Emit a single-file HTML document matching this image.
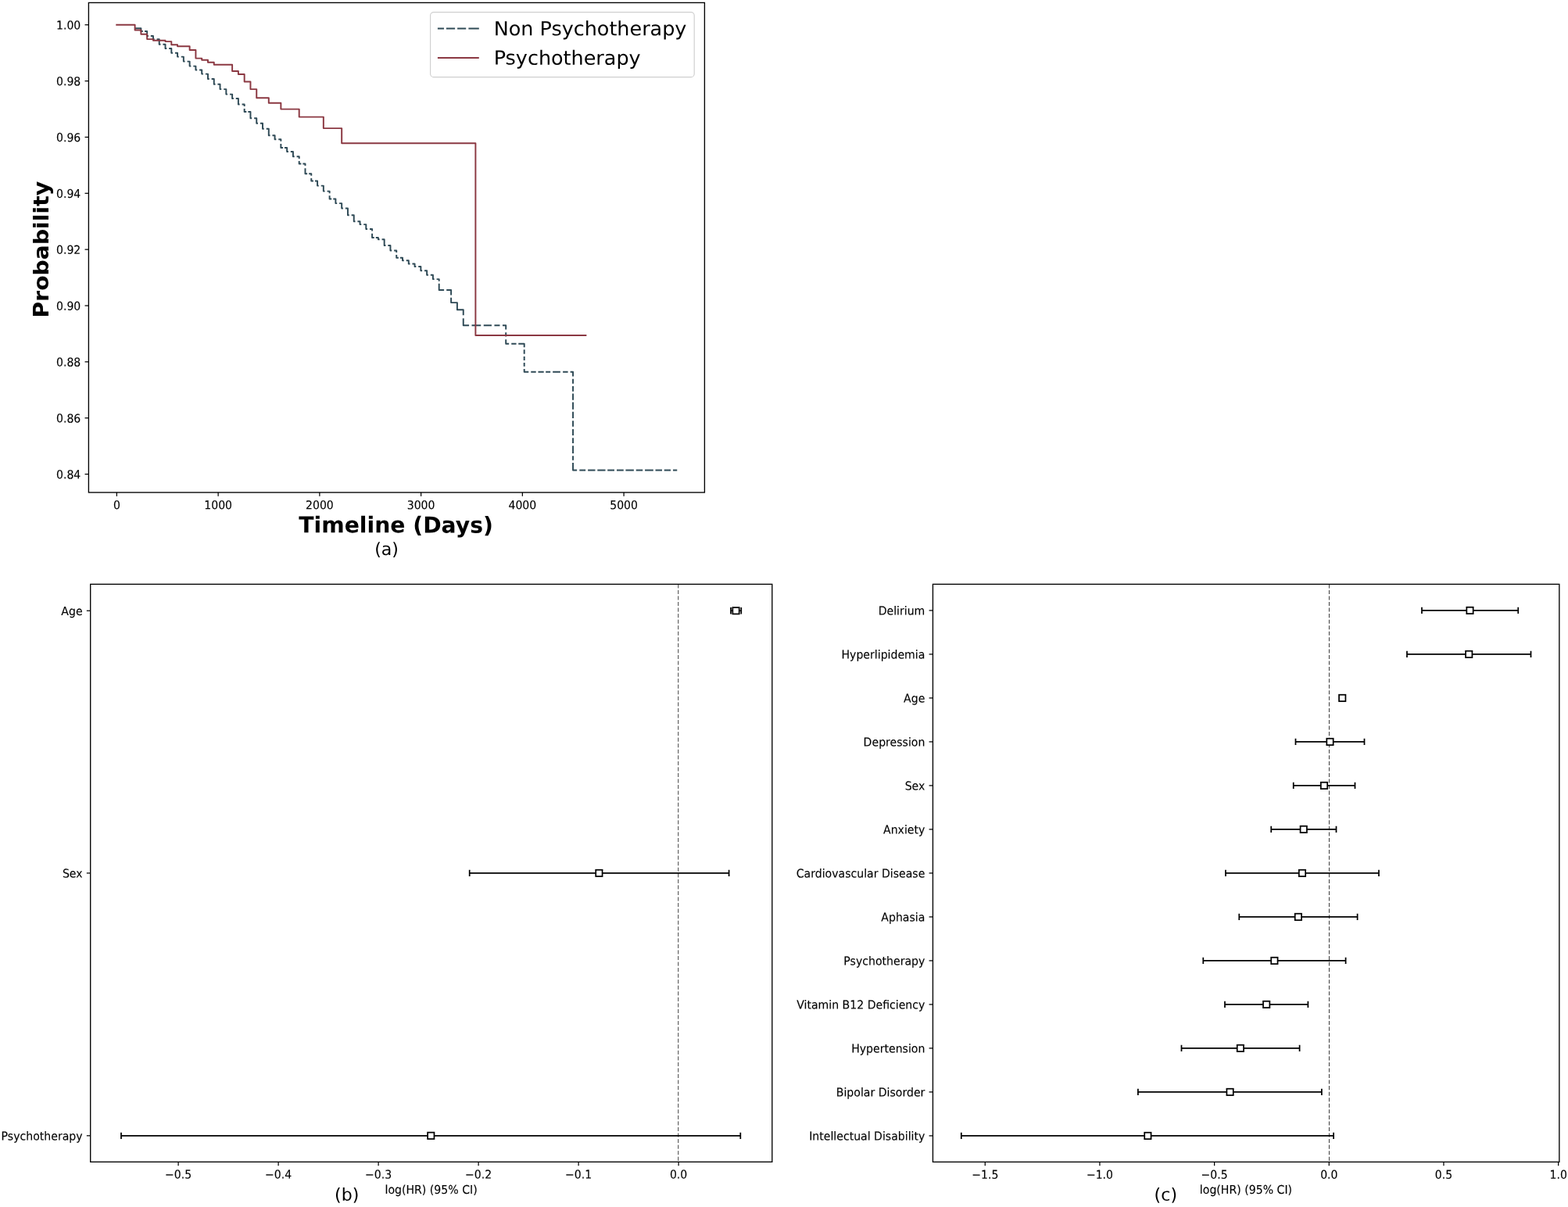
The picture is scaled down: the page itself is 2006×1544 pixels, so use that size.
<!DOCTYPE html>
<html lang="en">
<head>
<meta charset="utf-8">
<title>Kaplan-Meier and Cox hazard ratio plots</title>
<style>
html,body{margin:0;padding:0;background:#fff;}
body{width:2006px;height:1544px;overflow:hidden;}
svg{display:block;font-family:'DejaVu Sans','Liberation Sans',sans-serif;}
</style>
</head>
<body>
<svg width="2006" height="1544" viewBox="0 0 2006 1544">
<rect x="0" y="0" width="2006" height="1544" fill="#fff"/>
<rect x="113.40" y="3.45" width="788.00" height="626.50" fill="#fff" stroke="#000" stroke-width="1.35"/>
<line x1="149.40" y1="629.95" x2="149.40" y2="634.81" stroke="#000" stroke-width="1.25"/>
<text transform="translate(149.40 651.20) rotate(0.05) scale(1.012 1.08)" font-size="13.89" text-anchor="middle" fill="#000" stroke="#000" stroke-width="0.12" stroke-linejoin="round">0</text>
<line x1="279.14" y1="629.95" x2="279.14" y2="634.81" stroke="#000" stroke-width="1.25"/>
<text transform="translate(279.14 651.20) rotate(0.05) scale(1.012 1.08)" font-size="13.89" text-anchor="middle" fill="#000" stroke="#000" stroke-width="0.12" stroke-linejoin="round">1000</text>
<line x1="408.88" y1="629.95" x2="408.88" y2="634.81" stroke="#000" stroke-width="1.25"/>
<text transform="translate(408.88 651.20) rotate(0.05) scale(1.012 1.08)" font-size="13.89" text-anchor="middle" fill="#000" stroke="#000" stroke-width="0.12" stroke-linejoin="round">2000</text>
<line x1="538.62" y1="629.95" x2="538.62" y2="634.81" stroke="#000" stroke-width="1.25"/>
<text transform="translate(538.62 651.20) rotate(0.05) scale(1.012 1.08)" font-size="13.89" text-anchor="middle" fill="#000" stroke="#000" stroke-width="0.12" stroke-linejoin="round">3000</text>
<line x1="668.36" y1="629.95" x2="668.36" y2="634.81" stroke="#000" stroke-width="1.25"/>
<text transform="translate(668.36 651.20) rotate(0.05) scale(1.012 1.08)" font-size="13.89" text-anchor="middle" fill="#000" stroke="#000" stroke-width="0.12" stroke-linejoin="round">4000</text>
<line x1="798.10" y1="629.95" x2="798.10" y2="634.81" stroke="#000" stroke-width="1.25"/>
<text transform="translate(798.10 651.20) rotate(0.05) scale(1.012 1.08)" font-size="13.89" text-anchor="middle" fill="#000" stroke="#000" stroke-width="0.12" stroke-linejoin="round">5000</text>
<line x1="108.54" y1="31.75" x2="113.40" y2="31.75" stroke="#000" stroke-width="1.25"/>
<text transform="translate(103.30 37.45) rotate(0.05) scale(1.012 1.08)" font-size="13.89" text-anchor="end" fill="#000" stroke="#000" stroke-width="0.12" stroke-linejoin="round">1.00</text>
<line x1="108.54" y1="103.60" x2="113.40" y2="103.60" stroke="#000" stroke-width="1.25"/>
<text transform="translate(103.30 109.30) rotate(0.05) scale(1.012 1.08)" font-size="13.89" text-anchor="end" fill="#000" stroke="#000" stroke-width="0.12" stroke-linejoin="round">0.98</text>
<line x1="108.54" y1="175.45" x2="113.40" y2="175.45" stroke="#000" stroke-width="1.25"/>
<text transform="translate(103.30 181.15) rotate(0.05) scale(1.012 1.08)" font-size="13.89" text-anchor="end" fill="#000" stroke="#000" stroke-width="0.12" stroke-linejoin="round">0.96</text>
<line x1="108.54" y1="247.30" x2="113.40" y2="247.30" stroke="#000" stroke-width="1.25"/>
<text transform="translate(103.30 253.00) rotate(0.05) scale(1.012 1.08)" font-size="13.89" text-anchor="end" fill="#000" stroke="#000" stroke-width="0.12" stroke-linejoin="round">0.94</text>
<line x1="108.54" y1="319.15" x2="113.40" y2="319.15" stroke="#000" stroke-width="1.25"/>
<text transform="translate(103.30 324.85) rotate(0.05) scale(1.012 1.08)" font-size="13.89" text-anchor="end" fill="#000" stroke="#000" stroke-width="0.12" stroke-linejoin="round">0.92</text>
<line x1="108.54" y1="391.00" x2="113.40" y2="391.00" stroke="#000" stroke-width="1.25"/>
<text transform="translate(103.30 396.70) rotate(0.05) scale(1.012 1.08)" font-size="13.89" text-anchor="end" fill="#000" stroke="#000" stroke-width="0.12" stroke-linejoin="round">0.90</text>
<line x1="108.54" y1="462.85" x2="113.40" y2="462.85" stroke="#000" stroke-width="1.25"/>
<text transform="translate(103.30 468.55) rotate(0.05) scale(1.012 1.08)" font-size="13.89" text-anchor="end" fill="#000" stroke="#000" stroke-width="0.12" stroke-linejoin="round">0.88</text>
<line x1="108.54" y1="534.70" x2="113.40" y2="534.70" stroke="#000" stroke-width="1.25"/>
<text transform="translate(103.30 540.40) rotate(0.05) scale(1.012 1.08)" font-size="13.89" text-anchor="end" fill="#000" stroke="#000" stroke-width="0.12" stroke-linejoin="round">0.86</text>
<line x1="108.54" y1="606.55" x2="113.40" y2="606.55" stroke="#000" stroke-width="1.25"/>
<text transform="translate(103.30 612.25) rotate(0.05) scale(1.012 1.08)" font-size="13.89" text-anchor="end" fill="#000" stroke="#000" stroke-width="0.12" stroke-linejoin="round">0.84</text>
<path d="M172.60 36.20H180.38V39.90H182.78" fill="none" stroke="#2f4a56" stroke-width="1.95" stroke-linejoin="round"/>
<path d="M185.06 39.90H188.16V45.90H189.91M192.84 45.90H195.94V50.10H197.69M200.62 50.10H203.72V56.70H205.47M208.41 56.70H211.51V61.90H213.26M216.19 61.90H219.29V67.80H221.04M223.97 67.80H227.07V72.60H228.82M231.75 72.60H234.85V78.60H236.60M239.53 78.60H242.63V84.60H244.38M247.32 84.60H250.42V89.50H252.17M255.10 89.50H258.20V94.60H259.95M262.88 94.60H265.98V100.90H267.73M270.66 100.90H273.76V107.70H275.51M278.44 107.70H281.54V114.10H283.29M286.23 114.10H289.33V120.60H291.08M294.01 120.60H297.11V125.90H298.86M301.79 125.90H304.89V133.40H306.64M309.57 133.40H312.67V136.00M312.67 139.10V143.00H315.32M317.35 143.00H320.45V151.20H322.20M325.14 151.20H328.24V157.70H329.99M332.92 157.70H336.02V164.80H337.77M340.70 164.80H343.80V173.30H345.55M348.48 173.30H351.58V178.20H353.33M356.26 178.20H359.36V180.80M359.36 183.90V188.90H362.01M364.05 188.90H367.15V193.90H368.90M371.83 193.90H374.93V200.30H376.68M379.61 200.30H382.71V202.90M382.71 206.00V209.50H385.36M387.39 209.50H390.49V212.10M390.49 215.20V222.20H393.14M395.17 222.20H398.27V224.80M398.27 227.90V231.40H400.92M402.96 231.40H406.06V237.60H407.81M410.74 237.60H413.84V244.60H415.59M418.52 244.60H421.62V247.20M421.62 250.30V254.50H424.27M426.30 254.50H429.40V260.10H431.15M434.08 260.10H437.18V266.50H438.93M441.87 266.50H444.97V275.30H446.72M449.65 275.30H452.75V283.20H454.50M457.43 283.20H460.53V287.10H462.28M465.21 287.10H468.31V293.00H470.06M472.99 293.00H476.09V295.60M476.09 298.70V303.90H478.74M480.78 303.90H483.88V306.30H485.63M488.56 306.30H491.66V313.90H493.41M496.34 313.90H499.44V320.40H501.19M504.12 320.40H507.22V323.00M507.22 326.10V329.70H509.87M511.90 329.70H515.00V333.20H516.75M519.69 333.20H522.79V337.40H524.54M527.47 337.40H530.57V341.00H532.32M535.25 341.00H538.35V346.30H540.10M543.03 346.30H546.13V351.80H547.88M550.81 351.80H553.91V357.10H555.66M558.60 357.10H561.70V359.70M561.70 362.80V371.00H568.10" fill="none" stroke="#2f4a56" stroke-width="1.95" stroke-linejoin="round"/>
<path d="M571.2 371.0H577.1V387.1H584.9V396.3H592.75V416.3H647.2V439.8H670.7V475.65H733.05V601.4H866.3" fill="none" stroke="#2f4a56" stroke-width="1.95" stroke-dasharray="12.40 3.30 38.05 4.00 16.40 3.45 11.75 3.50 10.20 3.50 7.00 3.50 9.40 3.70 5.30 3.70 9.60 3.10 6.30 2.70 11.90 3.00 5.50 3.20 5.00 3.00 4.75 3.25 9.25 3.00 6.45 2.75 7.25 2.45 6.00 3.00 9.70 3.25 6.50 3.00 9.25 3.20 6.00 3.25 6.75 2.90 8.25 2.75 9.20 3.00 8.20 3.30 7.45 3.25 8.05 3.35 6.75 3.20 9.75 3.20 5.45 3.25 14.52 3.20 7.80 3.00 9.40 2.80 10.20 2.70 8.75 3.00 8.80 2.65 10.45 2.85 8.50 2.85 10.75 2.70 8.50 2.70 8.30 3.00 5.23 50.00" stroke-linejoin="round"/>
<path d="M149.25 31.75H172.60V38.50H180.38V43.80H188.16V50.10H195.94V51.70H211.51V53.10H219.29V57.30H227.07V59.20H242.63V63.90H250.42V74.60H258.20V76.80H265.98V79.70H273.76V82.80H297.11V90.90H304.89V95.00H312.67V104.50H320.45V114.10H328.24V125.30H343.80V131.80H359.36V139.60H382.71V149.60H413.84V164.10H437.18V183.20H608.39V428.90H749.40" fill="none" stroke="#8b3842" stroke-width="1.95" stroke-linejoin="round" stroke-linecap="square"/>
<rect x="550.6" y="15.6" width="337.6" height="83.0" rx="4.2" ry="4.2" fill="#fff" fill-opacity="0.8" stroke="#cccccc" stroke-opacity="0.95" stroke-width="1.15"/>
<path d="M559.9 36.5H612.8" fill="none" stroke="#2f4a56" stroke-width="1.95" stroke-dasharray="8.1 2.9 11.2 3.0 11.1 3.2 13.4"/>
<path d="M559.9 74.05H612.8" fill="none" stroke="#8b3842" stroke-width="1.95"/>
<text transform="translate(631.70 45.15) rotate(0.05) scale(1.018 0.995)" font-size="25" text-anchor="start" fill="#000">Non Psychotherapy</text>
<text transform="translate(631.70 82.60) rotate(0.05) scale(1.018 0.995)" font-size="25" text-anchor="start" fill="#000">Psychotherapy</text>
<text transform="translate(62.20 319.20) rotate(-90) scale(1.018 0.985)" font-size="27.78" text-anchor="middle" font-weight="bold" fill="#000">Probability</text>
<text transform="translate(506.60 681.35) rotate(0.05) scale(1.017 1.02)" font-size="27.78" text-anchor="middle" font-weight="bold" fill="#000">Timeline (Days)</text>
<text transform="translate(494.60 710.00) rotate(0.05)" font-size="22.1" text-anchor="middle" fill="#000">(a)</text>
<rect x="115.70" y="747.35" width="872.10" height="739.00" fill="#fff" stroke="#000" stroke-width="1.35"/>
<line x1="867.78" y1="747.35" x2="867.78" y2="1486.35" stroke="#000" stroke-opacity="0.76" stroke-width="1.0" stroke-dasharray="5.05 2.5"/>
<line x1="228.10" y1="1486.35" x2="228.10" y2="1491.21" stroke="#000" stroke-width="1.25"/>
<text transform="translate(228.10 1507.60) rotate(0.05) scale(1.012 1.08)" font-size="13.89" text-anchor="middle" fill="#000" stroke="#000" stroke-width="0.12" stroke-linejoin="round">−0.5</text>
<line x1="356.10" y1="1486.35" x2="356.10" y2="1491.21" stroke="#000" stroke-width="1.25"/>
<text transform="translate(356.10 1507.60) rotate(0.05) scale(1.012 1.08)" font-size="13.89" text-anchor="middle" fill="#000" stroke="#000" stroke-width="0.12" stroke-linejoin="round">−0.4</text>
<line x1="484.10" y1="1486.35" x2="484.10" y2="1491.21" stroke="#000" stroke-width="1.25"/>
<text transform="translate(484.10 1507.60) rotate(0.05) scale(1.012 1.08)" font-size="13.89" text-anchor="middle" fill="#000" stroke="#000" stroke-width="0.12" stroke-linejoin="round">−0.3</text>
<line x1="612.10" y1="1486.35" x2="612.10" y2="1491.21" stroke="#000" stroke-width="1.25"/>
<text transform="translate(612.10 1507.60) rotate(0.05) scale(1.012 1.08)" font-size="13.89" text-anchor="middle" fill="#000" stroke="#000" stroke-width="0.12" stroke-linejoin="round">−0.2</text>
<line x1="740.10" y1="1486.35" x2="740.10" y2="1491.21" stroke="#000" stroke-width="1.25"/>
<text transform="translate(740.10 1507.60) rotate(0.05) scale(1.012 1.08)" font-size="13.89" text-anchor="middle" fill="#000" stroke="#000" stroke-width="0.12" stroke-linejoin="round">−0.1</text>
<line x1="868.10" y1="1486.35" x2="868.10" y2="1491.21" stroke="#000" stroke-width="1.25"/>
<text transform="translate(868.10 1507.60) rotate(0.05) scale(1.012 1.08)" font-size="13.89" text-anchor="middle" fill="#000" stroke="#000" stroke-width="0.12" stroke-linejoin="round">0.0</text>
<line x1="110.84" y1="781.25" x2="115.70" y2="781.25" stroke="#000" stroke-width="1.25"/>
<text transform="translate(105.60 786.95) rotate(0.05) scale(1.014 1.08)" font-size="13.89" text-anchor="end" fill="#000" stroke="#000" stroke-width="0.12" stroke-linejoin="round">Age</text>
<path d="M935.00 781.25H948.25M935.00 777.08V785.42M948.25 777.08V785.42" fill="none" stroke="#000" stroke-width="1.74"/>
<rect x="937.34" y="777.09" width="8.33" height="8.33" fill="#fff" stroke="#000" stroke-width="1.74"/>
<line x1="110.84" y1="1116.90" x2="115.70" y2="1116.90" stroke="#000" stroke-width="1.25"/>
<text transform="translate(105.60 1122.60) rotate(0.05) scale(1.014 1.08)" font-size="13.89" text-anchor="end" fill="#000" stroke="#000" stroke-width="0.12" stroke-linejoin="round">Sex</text>
<path d="M600.70 1116.90H932.60M600.70 1112.73V1121.07M932.60 1112.73V1121.07" fill="none" stroke="#000" stroke-width="1.74"/>
<rect x="762.24" y="1112.74" width="8.33" height="8.33" fill="#fff" stroke="#000" stroke-width="1.74"/>
<line x1="110.84" y1="1452.80" x2="115.70" y2="1452.80" stroke="#000" stroke-width="1.25"/>
<text transform="translate(105.60 1458.50) rotate(0.05) scale(1.014 1.08)" font-size="13.89" text-anchor="end" fill="#000" stroke="#000" stroke-width="0.12" stroke-linejoin="round">Psychotherapy</text>
<path d="M155.00 1452.80H947.30M155.00 1448.63V1456.97M947.30 1448.63V1456.97" fill="none" stroke="#000" stroke-width="1.74"/>
<rect x="547.13" y="1448.63" width="8.33" height="8.33" fill="#fff" stroke="#000" stroke-width="1.74"/>
<text transform="translate(551.55 1527.05) rotate(0.05) scale(1.016 1.08)" font-size="13.89" text-anchor="middle" fill="#000" stroke="#000" stroke-width="0.12" stroke-linejoin="round">log(HR) (95% CI)</text>
<text transform="translate(443.70 1535.70) rotate(0.05)" font-size="22.1" text-anchor="middle" fill="#000">(b)</text>
<rect x="1193.45" y="747.35" width="801.40" height="739.05" fill="#fff" stroke="#000" stroke-width="1.35"/>
<line x1="1700.50" y1="747.35" x2="1700.50" y2="1486.40" stroke="#000" stroke-opacity="0.74" stroke-width="1.05" stroke-dasharray="5.05 2.5"/>
<line x1="1260.27" y1="1486.40" x2="1260.27" y2="1491.26" stroke="#000" stroke-width="1.25"/>
<text transform="translate(1260.27 1507.65) rotate(0.05) scale(1.012 1.08)" font-size="13.89" text-anchor="middle" fill="#000" stroke="#000" stroke-width="0.12" stroke-linejoin="round">−1.5</text>
<line x1="1406.95" y1="1486.40" x2="1406.95" y2="1491.26" stroke="#000" stroke-width="1.25"/>
<text transform="translate(1406.95 1507.65) rotate(0.05) scale(1.012 1.08)" font-size="13.89" text-anchor="middle" fill="#000" stroke="#000" stroke-width="0.12" stroke-linejoin="round">−1.0</text>
<line x1="1553.62" y1="1486.40" x2="1553.62" y2="1491.26" stroke="#000" stroke-width="1.25"/>
<text transform="translate(1553.62 1507.65) rotate(0.05) scale(1.012 1.08)" font-size="13.89" text-anchor="middle" fill="#000" stroke="#000" stroke-width="0.12" stroke-linejoin="round">−0.5</text>
<line x1="1700.30" y1="1486.40" x2="1700.30" y2="1491.26" stroke="#000" stroke-width="1.25"/>
<text transform="translate(1700.30 1507.65) rotate(0.05) scale(1.012 1.08)" font-size="13.89" text-anchor="middle" fill="#000" stroke="#000" stroke-width="0.12" stroke-linejoin="round">0.0</text>
<line x1="1846.97" y1="1486.40" x2="1846.97" y2="1491.26" stroke="#000" stroke-width="1.25"/>
<text transform="translate(1846.97 1507.65) rotate(0.05) scale(1.012 1.08)" font-size="13.89" text-anchor="middle" fill="#000" stroke="#000" stroke-width="0.12" stroke-linejoin="round">0.5</text>
<line x1="1993.65" y1="1486.40" x2="1993.65" y2="1491.26" stroke="#000" stroke-width="1.25"/>
<text transform="translate(1993.65 1507.65) rotate(0.05) scale(1.012 1.08)" font-size="13.89" text-anchor="middle" fill="#000" stroke="#000" stroke-width="0.12" stroke-linejoin="round">1.0</text>
<line x1="1188.59" y1="780.90" x2="1193.45" y2="780.90" stroke="#000" stroke-width="1.25"/>
<text transform="translate(1183.35 786.60) rotate(0.05) scale(1.014 1.08)" font-size="13.89" text-anchor="end" fill="#000" stroke="#000" stroke-width="0.12" stroke-linejoin="round">Delirium</text>
<path d="M1819.00 780.90H1942.25M1819.00 776.73V785.07M1942.25 776.73V785.07" fill="none" stroke="#000" stroke-width="1.74"/>
<rect x="1876.34" y="776.74" width="8.33" height="8.33" fill="#fff" stroke="#000" stroke-width="1.74"/>
<line x1="1188.59" y1="836.90" x2="1193.45" y2="836.90" stroke="#000" stroke-width="1.25"/>
<text transform="translate(1183.35 842.60) rotate(0.05) scale(1.014 1.08)" font-size="13.89" text-anchor="end" fill="#000" stroke="#000" stroke-width="0.12" stroke-linejoin="round">Hyperlipidemia</text>
<path d="M1800.00 836.90H1958.50M1800.00 832.73V841.07M1958.50 832.73V841.07" fill="none" stroke="#000" stroke-width="1.74"/>
<rect x="1875.09" y="832.74" width="8.33" height="8.33" fill="#fff" stroke="#000" stroke-width="1.74"/>
<line x1="1188.59" y1="892.90" x2="1193.45" y2="892.90" stroke="#000" stroke-width="1.25"/>
<text transform="translate(1183.35 898.60) rotate(0.05) scale(1.014 1.08)" font-size="13.89" text-anchor="end" fill="#000" stroke="#000" stroke-width="0.12" stroke-linejoin="round">Age</text>
<path d="M1716.20 892.90H1718.30M1716.20 888.73V897.07M1718.30 888.73V897.07" fill="none" stroke="#000" stroke-width="1.74"/>
<rect x="1713.09" y="888.74" width="8.33" height="8.33" fill="#fff" stroke="#000" stroke-width="1.74"/>
<line x1="1188.59" y1="948.90" x2="1193.45" y2="948.90" stroke="#000" stroke-width="1.25"/>
<text transform="translate(1183.35 954.60) rotate(0.05) scale(1.014 1.08)" font-size="13.89" text-anchor="end" fill="#000" stroke="#000" stroke-width="0.12" stroke-linejoin="round">Depression</text>
<path d="M1657.50 948.90H1745.50M1657.50 944.73V953.07M1745.50 944.73V953.07" fill="none" stroke="#000" stroke-width="1.74"/>
<rect x="1697.34" y="944.74" width="8.33" height="8.33" fill="#fff" stroke="#000" stroke-width="1.74"/>
<line x1="1188.59" y1="1004.90" x2="1193.45" y2="1004.90" stroke="#000" stroke-width="1.25"/>
<text transform="translate(1183.35 1010.60) rotate(0.05) scale(1.014 1.08)" font-size="13.89" text-anchor="end" fill="#000" stroke="#000" stroke-width="0.12" stroke-linejoin="round">Sex</text>
<path d="M1654.75 1004.90H1733.50M1654.75 1000.73V1009.07M1733.50 1000.73V1009.07" fill="none" stroke="#000" stroke-width="1.74"/>
<rect x="1689.84" y="1000.74" width="8.33" height="8.33" fill="#fff" stroke="#000" stroke-width="1.74"/>
<line x1="1188.59" y1="1060.90" x2="1193.45" y2="1060.90" stroke="#000" stroke-width="1.25"/>
<text transform="translate(1183.35 1066.60) rotate(0.05) scale(1.014 1.08)" font-size="13.89" text-anchor="end" fill="#000" stroke="#000" stroke-width="0.12" stroke-linejoin="round">Anxiety</text>
<path d="M1626.25 1060.90H1709.50M1626.25 1056.73V1065.07M1709.50 1056.73V1065.07" fill="none" stroke="#000" stroke-width="1.74"/>
<rect x="1663.59" y="1056.74" width="8.33" height="8.33" fill="#fff" stroke="#000" stroke-width="1.74"/>
<line x1="1188.59" y1="1116.90" x2="1193.45" y2="1116.90" stroke="#000" stroke-width="1.25"/>
<text transform="translate(1183.35 1122.60) rotate(0.05) scale(1.014 1.08)" font-size="13.89" text-anchor="end" fill="#000" stroke="#000" stroke-width="0.12" stroke-linejoin="round">Cardiovascular Disease</text>
<path d="M1568.00 1116.90H1764.00M1568.00 1112.73V1121.07M1764.00 1112.73V1121.07" fill="none" stroke="#000" stroke-width="1.74"/>
<rect x="1661.84" y="1112.74" width="8.33" height="8.33" fill="#fff" stroke="#000" stroke-width="1.74"/>
<line x1="1188.59" y1="1172.90" x2="1193.45" y2="1172.90" stroke="#000" stroke-width="1.25"/>
<text transform="translate(1183.35 1178.60) rotate(0.05) scale(1.014 1.08)" font-size="13.89" text-anchor="end" fill="#000" stroke="#000" stroke-width="0.12" stroke-linejoin="round">Aphasia</text>
<path d="M1585.30 1172.90H1736.60M1585.30 1168.73V1177.07M1736.60 1168.73V1177.07" fill="none" stroke="#000" stroke-width="1.74"/>
<rect x="1656.74" y="1168.74" width="8.33" height="8.33" fill="#fff" stroke="#000" stroke-width="1.74"/>
<line x1="1188.59" y1="1228.90" x2="1193.45" y2="1228.90" stroke="#000" stroke-width="1.25"/>
<text transform="translate(1183.35 1234.60) rotate(0.05) scale(1.014 1.08)" font-size="13.89" text-anchor="end" fill="#000" stroke="#000" stroke-width="0.12" stroke-linejoin="round">Psychotherapy</text>
<path d="M1539.30 1228.90H1721.60M1539.30 1224.73V1233.07M1721.60 1224.73V1233.07" fill="none" stroke="#000" stroke-width="1.74"/>
<rect x="1626.24" y="1224.74" width="8.33" height="8.33" fill="#fff" stroke="#000" stroke-width="1.74"/>
<line x1="1188.59" y1="1284.90" x2="1193.45" y2="1284.90" stroke="#000" stroke-width="1.25"/>
<text transform="translate(1183.35 1290.60) rotate(0.05) scale(1.014 1.08)" font-size="13.89" text-anchor="end" fill="#000" stroke="#000" stroke-width="0.12" stroke-linejoin="round">Vitamin B12 Deficiency</text>
<path d="M1567.00 1284.90H1673.40M1567.00 1280.73V1289.07M1673.40 1280.73V1289.07" fill="none" stroke="#000" stroke-width="1.74"/>
<rect x="1616.04" y="1280.74" width="8.33" height="8.33" fill="#fff" stroke="#000" stroke-width="1.74"/>
<line x1="1188.59" y1="1340.90" x2="1193.45" y2="1340.90" stroke="#000" stroke-width="1.25"/>
<text transform="translate(1183.35 1346.60) rotate(0.05) scale(1.014 1.08)" font-size="13.89" text-anchor="end" fill="#000" stroke="#000" stroke-width="0.12" stroke-linejoin="round">Hypertension</text>
<path d="M1511.50 1340.90H1662.60M1511.50 1336.73V1345.07M1662.60 1336.73V1345.07" fill="none" stroke="#000" stroke-width="1.74"/>
<rect x="1582.74" y="1336.74" width="8.33" height="8.33" fill="#fff" stroke="#000" stroke-width="1.74"/>
<line x1="1188.59" y1="1396.90" x2="1193.45" y2="1396.90" stroke="#000" stroke-width="1.25"/>
<text transform="translate(1183.35 1402.60) rotate(0.05) scale(1.014 1.08)" font-size="13.89" text-anchor="end" fill="#000" stroke="#000" stroke-width="0.12" stroke-linejoin="round">Bipolar Disorder</text>
<path d="M1455.90 1396.90H1690.90M1455.90 1392.73V1401.07M1690.90 1392.73V1401.07" fill="none" stroke="#000" stroke-width="1.74"/>
<rect x="1569.43" y="1392.74" width="8.33" height="8.33" fill="#fff" stroke="#000" stroke-width="1.74"/>
<line x1="1188.59" y1="1452.90" x2="1193.45" y2="1452.90" stroke="#000" stroke-width="1.25"/>
<text transform="translate(1183.35 1458.60) rotate(0.05) scale(1.014 1.08)" font-size="13.89" text-anchor="end" fill="#000" stroke="#000" stroke-width="0.12" stroke-linejoin="round">Intellectual Disability</text>
<path d="M1229.80 1452.90H1706.10M1229.80 1448.73V1457.07M1706.10 1448.73V1457.07" fill="none" stroke="#000" stroke-width="1.74"/>
<rect x="1464.24" y="1448.74" width="8.33" height="8.33" fill="#fff" stroke="#000" stroke-width="1.74"/>
<text transform="translate(1593.95 1527.05) rotate(0.05) scale(1.016 1.08)" font-size="13.89" text-anchor="middle" fill="#000" stroke="#000" stroke-width="0.12" stroke-linejoin="round">log(HR) (95% CI)</text>
<text transform="translate(1491.30 1535.65) rotate(0.05)" font-size="22.1" text-anchor="middle" fill="#000">(c)</text>
</svg>
</body>
</html>
